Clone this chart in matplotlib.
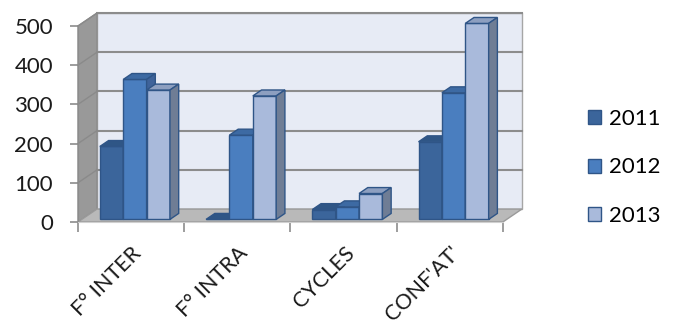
import matplotlib.pyplot as plt
from matplotlib.patches import Polygon, Patch

categories = ['F° INTER', 'F° INTRA', 'CYCLES', "CONF'AT'"]
years = ['2011', '2012', '2013']
values_2011 = [186, 0, 25, 198]
values_2012 = [357, 215, 32, 323]
values_2013 = [330, 315, 66, 500]

yticks = [0, 100, 200, 300, 400, 500]

# face / top / side / edge colours per series
front_colors = ['#3b659b', '#4a7ebf', '#a9badb']
top_colors = ['#2f5686', '#3d6aa3', '#8d9fc0']
side_colors = ['#34557f', '#3f639a', '#6f7d95']
edge_color = '#2f5587'

plt.rcParams['font.family'] = ['Lato', 'DejaVu Sans']

fig = plt.figure(figsize=(6.76, 3.33), dpi=100)
ax = fig.add_axes([0.0682, 0.2628, 0.7543, 0.7297])
ax.set_xlim(-0.3, 4.5)
ax.set_ylim(-60, 560)

# depth of the box (in data units) and where the bars sit inside it
DX, DY = 0.179, 33.0
f0, f1 = 0.2, 0.66
ymax = yticks[-1]
n = len(categories)

# ------------- walls and floor ------------- #
ax.add_patch(Polygon([(DX, DY), (n + DX, DY), (n + DX, ymax + DY), (DX, ymax + DY)],
                     closed=True, facecolor='#e7ebf5', edgecolor='#a6a6a6', lw=1.0, zorder=1))
ax.add_patch(Polygon([(0, 0), (DX, DY), (DX, ymax + DY), (0, ymax)],
                     closed=True, facecolor='#999999', edgecolor='#8c8c8c', lw=1.0, zorder=1))
ax.add_patch(Polygon([(0, 0), (n, 0), (n + DX, DY), (DX, DY)],
                     closed=True, facecolor='#b9b9b9', edgecolor='#9a9a9a', lw=1.0, zorder=2))
for t in yticks[1:]:
    ax.plot([DX, n + DX], [t + DY, t + DY], color='#8c8c8c', lw=1.5, zorder=1.5)
    ax.plot([0, DX], [t, t + DY], color='#8a8a8a', lw=1.0, zorder=1.5)

# ------------- bars ------------- #
w = 0.22
ddx = (f1 - f0) * DX
ddy = (f1 - f0) * DY
series = [values_2011, values_2012, values_2013]
z = 3
for i in range(n):
    for s, vals in enumerate(series):
        v = vals[i]
        x0 = i + 0.5 - 1.5 * w + s * w + f0 * DX
        y0 = f0 * DY
        ax.bar(x0, v, width=w, bottom=y0, align='edge', color=front_colors[s],
               edgecolor=edge_color, linewidth=1.0, zorder=z)
        top = y0 + v
        ax.add_patch(Polygon([(x0, top), (x0 + w, top), (x0 + w + ddx, top + ddy), (x0 + ddx, top + ddy)],
                             closed=True, facecolor=top_colors[s], edgecolor=edge_color, lw=1.0, zorder=z))
        ax.add_patch(Polygon([(x0 + w, y0), (x0 + w + ddx, y0 + ddy), (x0 + w + ddx, top + ddy), (x0 + w, top)],
                             closed=True, facecolor=side_colors[s], edgecolor=edge_color, lw=1.0, zorder=z))
        z += 1

# ------------- axes ------------- #
for side in ['top', 'right']:
    ax.spines[side].set_visible(False)
ax.spines['left'].set_position(('data', 0))
ax.spines['left'].set_bounds(0, ymax)
ax.spines['bottom'].set_position(('data', 0))
ax.spines['bottom'].set_bounds(0, n)
ax.spines['left'].set_color('#8c8c8c')
ax.spines['bottom'].set_color('#d0d0d0')
ax.spines['left'].set_zorder(2.5)

ax.set_yticks(yticks)
ax.set_xticks(range(n + 1))
ax.set_xticklabels([])
ax.tick_params(axis='y', length=6, width=1.2, color='#8c8c8c', labelsize=16, pad=12, labelcolor='#1a1a1a')
ax.tick_params(axis='x', length=7, width=1.2, color='#8c8c8c')

for i, name in enumerate(categories):
    ax.text(i + 0.57, -72, name, rotation=45, rotation_mode='anchor', ha='right', va='center',
            fontsize=15.5, color='#1a1a1a')

handles = [Patch(facecolor=front_colors[s], edgecolor=edge_color, lw=1.0) for s in range(3)]
fig.legend(handles, years, loc='center left', bbox_to_anchor=(0.84, 0.497), frameon=False,
           fontsize=16, handlelength=0.6, handleheight=0.6, handletextpad=0.35, labelspacing=1.28)

fig.savefig('out.png', dpi=100)
